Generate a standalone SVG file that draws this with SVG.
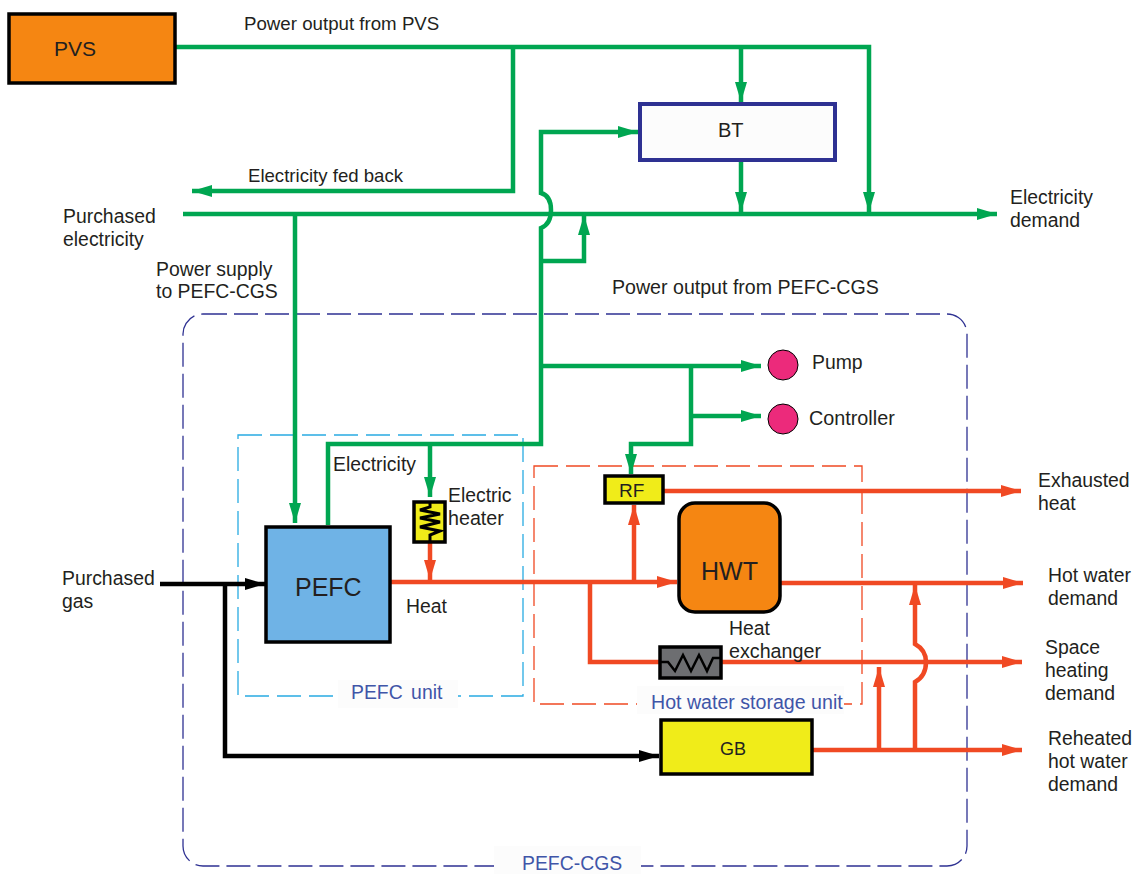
<svg xmlns="http://www.w3.org/2000/svg" width="1139" height="874" viewBox="0 0 1139 874">
<defs>
<style>
text{font-family:"Liberation Sans",Arial,sans-serif;font-size:19.4px;fill:#231f20}
.lbl{fill:#3f55a8}
.g{fill:none;stroke:#00a651;stroke-width:4.5}
.r{fill:none;stroke:#f04923;stroke-width:4.5}
.k{fill:none;stroke:#000;stroke-width:4.5}
.box{stroke:#000;stroke-width:3.5}
</style>
<marker id="ag" markerUnits="userSpaceOnUse" markerWidth="20" markerHeight="12" refX="20" refY="6" orient="auto" viewBox="0 0 20 12"><path d="M0 0L20 6L0 12z" fill="#00a651"/></marker>
<marker id="ar" markerUnits="userSpaceOnUse" markerWidth="20" markerHeight="12" refX="20" refY="6" orient="auto" viewBox="0 0 20 12"><path d="M0 0L20 6L0 12z" fill="#f04923"/></marker>
<marker id="ak" markerUnits="userSpaceOnUse" markerWidth="20" markerHeight="12" refX="20" refY="6" orient="auto" viewBox="0 0 20 12"><path d="M0 0L20 6L0 12z" fill="#000"/></marker>
</defs>
<rect width="1139" height="874" fill="#fff"/>
<g id="frames">
<rect x="183" y="314" width="784" height="552" rx="20" fill="none" stroke="#2e3192" stroke-width="1.3" stroke-dasharray="24 7"/>
<rect x="238" y="435" width="285" height="261" fill="none" stroke="#29abe2" stroke-width="1.3" stroke-dasharray="24 8"/>
<rect x="534" y="466" width="328" height="238" fill="none" stroke="#f04923" stroke-width="1.3" stroke-dasharray="24 8"/>
<rect x="338" y="680" width="120" height="28" fill="#fcfcfc"/>
<rect x="637" y="686" width="207" height="28" fill="#fcfcfc"/>
<rect x="494" y="846" width="147" height="28" fill="#fcfcfc"/>
</g>
<g id="connectors">
<path class="g" d="M175 47H869V212" marker-end="url(#ag)"/>
<path class="g" d="M741 47V102" marker-end="url(#ag)"/>
<path class="g" d="M513 47V191H192" marker-end="url(#ag)"/>
<path class="g" d="M741 161V212" marker-end="url(#ag)"/>
<path class="g" d="M183 214H997" marker-end="url(#ag)"/>
<path class="g" d="M295 214V523" marker-end="url(#ag)"/>
<path class="g" d="M328 525V444H541V228Q551 224 551 210Q551 196 541 193V132H638" marker-end="url(#ag)"/>
<path class="g" d="M541 261H584V215" marker-end="url(#ag)"/>
<path class="g" d="M541 366H761" marker-end="url(#ag)"/>
<path class="g" d="M691 366V444H631V474" marker-end="url(#ag)"/>
<path class="g" d="M691 416H761" marker-end="url(#ag)"/>
<path class="g" d="M430 444V497" marker-end="url(#ag)"/>
<path class="r" d="M430 543V580" marker-end="url(#ar)"/>
<path class="r" d="M390 582H677" marker-end="url(#ar)"/>
<path class="r" d="M634 582V505" marker-end="url(#ar)"/>
<path class="r" d="M590 582V662H660"/>
<path class="r" d="M720 662H1022" marker-end="url(#ar)"/>
<path class="r" d="M664 491H1021" marker-end="url(#ar)"/>
<path class="r" d="M780 583H1023" marker-end="url(#ar)"/>
<path class="r" d="M812 750H1022" marker-end="url(#ar)"/>
<path class="r" d="M879 750V667" marker-end="url(#ar)"/>
<path class="r" d="M915 750V682Q926 676 926 662Q926 650 915 644V585" marker-end="url(#ar)"/>
<path class="k" d="M160 584H265" marker-end="url(#ak)"/>
<path class="k" d="M225 584V756H659" marker-end="url(#ak)"/>
</g>
<g id="PVS"><rect class="box" x="9" y="14" width="166" height="69" fill="#f58612"/><text x="54" y="56" style="font-size:21px">PVS</text></g>
<g id="BT"><rect x="640" y="104" width="195" height="56" fill="#fcfcfc" stroke="#2e3192" stroke-width="4"/><text x="718" y="137" style="font-size:20px">BT</text></g>
<g id="PEFC"><rect class="box" x="266" y="527" width="124" height="115" fill="#6fb3e6"/><text x="295" y="596" style="font-size:25px">PEFC</text></g>
<g id="HWT"><rect class="box" x="679" y="503" width="101" height="109" rx="16" fill="#f58612"/><text x="701" y="580" style="font-size:25px">HWT</text></g>
<g id="RF"><rect class="box" x="605" y="476" width="58" height="27" fill="#f0ec19"/><text x="619" y="497" style="font-size:19px">RF</text></g>
<g id="GB"><rect class="box" x="661" y="720" width="151" height="54" fill="#f0ec19"/><text x="720" y="755" style="font-size:18px">GB</text></g>
<g id="ElectricHeater"><rect class="box" x="414" y="502" width="31" height="40" fill="#f0ec19"/><path d="M430 502V507L420 510L440 514L420 518L440 522L420 527L440 531L430 535V542" fill="none" stroke="#000" stroke-width="3"/></g>
<g id="HeatExchanger"><rect class="box" x="660" y="647" width="61" height="31" fill="#6d6e71"/><path d="M660 662H668L675 671L683 655L691 671L699 655L707 671L713 658H721" fill="none" stroke="#000" stroke-width="2.5"/></g>
<g id="PumpNode"><circle cx="783" cy="365" r="15" fill="#ec2a7b" stroke="#000" stroke-width="1"/><text x="812" y="369">Pump</text></g>
<g id="ControllerNode"><circle cx="783" cy="419" r="15" fill="#ec2a7b" stroke="#000" stroke-width="1"/><text x="809" y="425" style="font-size:19.8px">Controller</text></g>
<g id="labels">
<text x="244" y="30" style="font-size:18.7px">Power output from PVS</text>
<text x="248" y="182" style="font-size:18.6px">Electricity fed back</text>
<text x="63" y="223">Purchased</text><text x="63" y="246">electricity</text>
<text x="1010" y="204">Electricity</text><text x="1010" y="227">demand</text>
<text x="156" y="276">Power supply</text><text x="156" y="298">to PEFC-CGS</text>
<text x="612" y="294" style="font-size:19.6px">Power output from PEFC-CGS</text>
<text x="333" y="471">Electricity</text>
<text x="448" y="502">Electric</text><text x="448" y="525" style="font-size:19.7px">heater</text>
<text x="62" y="585">Purchased</text><text x="62" y="608">gas</text>
<text x="406" y="613">Heat</text>
<text x="729" y="635">Heat</text><text x="729" y="658" style="font-size:19.7px">exchanger</text>
<text x="1038" y="487">Exhausted</text><text x="1038" y="510">heat</text>
<text x="1048" y="582">Hot water</text><text x="1048" y="605">demand</text>
<text x="1045" y="654">Space</text><text x="1045" y="677">heating</text><text x="1045" y="700">demand</text>
<text x="1048" y="745">Reheated</text><text x="1048" y="768">hot water</text><text x="1048" y="791">demand</text>
<text class="lbl" x="351" y="699" word-spacing="3">PEFC unit</text>
<text class="lbl" x="651" y="709" style="font-size:19.6px">Hot water storage unit</text>
<text class="lbl" x="522" y="870">PEFC-CGS</text>
</g>
</svg>
